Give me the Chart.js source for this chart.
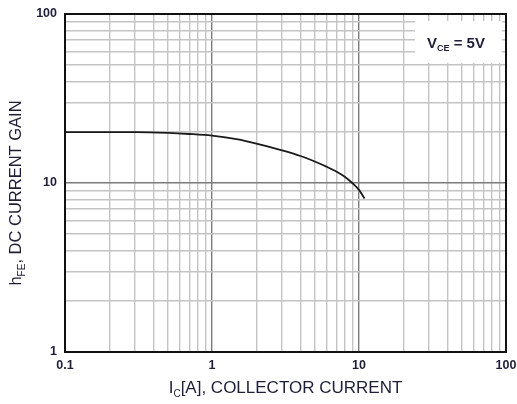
<!DOCTYPE html>
<html>
<head>
<meta charset="utf-8">
<script src="https://cdn.jsdelivr.net/npm/chart.js@4/dist/chart.umd.min.js"></script>
<style>
  html, body { margin: 0; padding: 0; background: #fff; }
  #wrap { width: 517px; height: 404px; position: relative; }
</style>
</head>
<body>
<div id="wrap"><canvas id="c" width="517" height="404"></canvas></div>
<script>
// ---- Data ----
const collectorCurrent = [0.1, 0.2, 0.3, 0.5, 0.7, 1.0, 1.5, 2.0, 3.0, 4.0, 5.0, 6.0, 7.0, 8.0, 9.0, 10.0, 10.9];
const dcGain          = [20, 20, 20, 19.8, 19.5, 19.05, 18.1, 17.1, 15.6, 14.45, 13.4, 12.5, 11.7, 10.9, 10.0, 9.1, 8.1];
const xTickLabels = [0.1, 1, 10, 100];
const yTickLabels = [1, 10, 100];
const xRange = [0.1, 100];
const yRange = [1, 100];
const legendMain = 'V';
const legendSub = 'CE';
const legendRest = ' = 5V';
const yTitleMain = 'h';
const yTitleSub = 'FE';
const yTitleRest = ', DC CURRENT GAIN';
const xTitleMain = 'I';
const xTitleSub = 'C';
const xTitleRest = '[A], COLLECTOR CURRENT';

const FONT = '"Liberation Sans", Arial, sans-serif';
const TEXT = '#1e1e38';

function logGridTicks(min, max) {
  const t = [];
  for (let e = Math.round(Math.log10(min)); e < Math.round(Math.log10(max)); e++) {
    for (let m = 1; m <= 9; m++) t.push({ value: m * Math.pow(10, e) });
  }
  t.push({ value: max });
  return t;
}
function isMajor(v) {
  const l = Math.log10(v);
  return Math.abs(l - Math.round(l)) < 1e-9;
}
function inList(v, list) { return list.some(x => Math.abs(x - v) / x < 1e-9); }

function drawSub(ctx, cx, y, main, sub, rest, bigFont, smallFont, drop, center) {
  ctx.font = bigFont; const w1 = ctx.measureText(main).width, w3 = ctx.measureText(rest).width;
  ctx.font = smallFont; const w2 = ctx.measureText(sub).width;
  const sx = center ? cx - (w1 + w2 + w3) / 2 : cx;
  ctx.font = bigFont; ctx.fillText(main, sx, y);
  ctx.font = smallFont; ctx.fillText(sub, sx + w1, y + drop);
  ctx.font = bigFont; ctx.fillText(rest, sx + w1 + w2, y);
}

const decorPlugin = {
  id: 'decor',
  beforeDatasetsDraw(chart) {
    const { ctx, chartArea: a } = chart;
    const bw = 87, bh = 42;
    const bx = a.right - 91, by = a.top + 7;
    ctx.save();
    ctx.fillStyle = '#fff';
    ctx.fillRect(bx, by, bw, bh);
    ctx.fillStyle = TEXT;
    ctx.textBaseline = 'alphabetic';
    drawSub(ctx, bx + 12, by + 27, legendMain, legendSub, legendRest,
      'bold 15px ' + FONT, 'bold 9px ' + FONT, 3, false);
    ctx.restore();
  },
  afterDraw(chart) {
    const { ctx, chartArea: a } = chart;
    ctx.save();
    ctx.strokeStyle = '#111';
    ctx.lineWidth = 2;
    ctx.strokeRect(a.left, a.top, a.right - a.left, a.bottom - a.top);
    ctx.fillStyle = TEXT;
    ctx.textBaseline = 'alphabetic';
    const cx = (a.left + a.right) / 2;
    drawSub(ctx, cx, 393, xTitleMain, xTitleSub, xTitleRest,
      '17px ' + FONT, '10px ' + FONT, 4, true);
    ctx.save();
    ctx.translate(21, (a.top + a.bottom) / 2 + 10);
    ctx.rotate(-Math.PI / 2);
    drawSub(ctx, 0, 0, yTitleMain, yTitleSub, yTitleRest,
      '16.5px ' + FONT, '10px ' + FONT, 4, true);
    ctx.restore();
    ctx.restore();
  }
};

const gridColor = c => isMajor(c.tick.value) ? '#7a7a7a' : '#c4c4c4';

new Chart(document.getElementById('c'), {
  type: 'line',
  data: {
    datasets: [{
      data: collectorCurrent.map((x, i) => ({ x: x, y: dcGain[i] })),
      borderColor: '#1a1a1a',
      borderWidth: 1.8,
      pointRadius: 0,
      fill: false,
      cubicInterpolationMode: 'monotone'
    }]
  },
  options: {
    responsive: false,
    animation: false,
    devicePixelRatio: 1,
    layout: { padding: { top: 14, right: 11, left: 0, bottom: 0 } },
    plugins: { legend: { display: false }, tooltip: { enabled: false } },
    scales: {
      x: {
        type: 'logarithmic',
        min: xRange[0], max: xRange[1],
        afterBuildTicks: s => { s.ticks = logGridTicks(xRange[0], xRange[1]); },
        afterFit: s => { s.height = 52; s.paddingLeft = 0; s.paddingRight = 0; },
        grid: { color: gridColor, lineWidth: 1.4, drawTicks: false },
        border: { display: false },
        ticks: {
          autoSkip: false, maxRotation: 0, padding: 6,
          color: TEXT,
          font: { family: FONT, size: 12.5, weight: 'bold' },
          callback: v => inList(v, xTickLabels) ? String(v) : ''
        }
      },
      y: {
        type: 'logarithmic',
        min: yRange[0], max: yRange[1],
        afterBuildTicks: s => { s.ticks = logGridTicks(yRange[0], yRange[1]); },
        afterFit: s => { s.width = 65; s.paddingTop = 0; s.paddingBottom = 0; },
        grid: { color: gridColor, lineWidth: 1.4, drawTicks: false },
        border: { display: false },
        ticks: {
          autoSkip: false, padding: 8,
          color: TEXT,
          font: { family: FONT, size: 12.5, weight: 'bold' },
          callback: v => inList(v, yTickLabels) ? String(v) : ''
        }
      }
    }
  },
  plugins: [decorPlugin]
});
</script>
</body>
</html>
